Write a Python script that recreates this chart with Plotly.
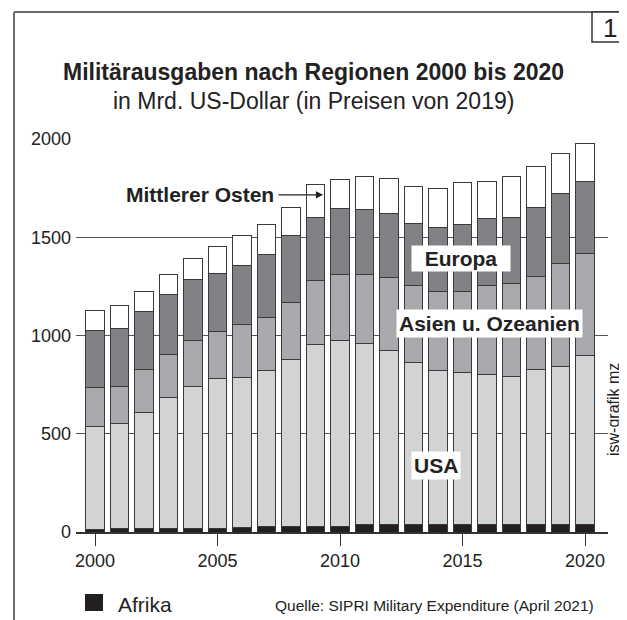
import plotly.graph_objects as go

# ---------------- data ----------------
years = list(range(2000, 2021))
afrika = [15, 16, 16, 16, 17, 17, 25, 26, 27, 27, 28, 36, 37, 37, 38, 37, 37, 37, 38, 38, 39]
usa = [523, 535, 590, 668, 723, 763, 762, 798, 850, 928, 947, 924, 886, 825, 783, 774, 765, 753, 790, 802, 857]
asien = [197, 192, 223, 220, 234, 240, 268, 267, 292, 324, 338, 353, 370, 390, 404, 414, 455, 475, 471, 524, 522]
europa = [288, 295, 291, 305, 313, 298, 299, 319, 341, 324, 331, 327, 327, 317, 324, 339, 339, 338, 350, 360, 365]
mittlerer_osten = [105, 117, 106, 102, 106, 136, 156, 154, 139, 168, 152, 168, 178, 187, 198, 215, 189, 204, 210, 200, 195]

y_ticks = [0, 500, 1000, 1500, 2000]
x_ticks = [2000, 2005, 2010, 2015, 2020]

title = "Militärausgaben nach Regionen 2000 bis 2020"
subtitle = "in Mrd. US-Dollar (in Preisen von 2019)"
source = "Quelle: SIPRI Military Expenditure (April 2021)"

# ---------------- layout geometry ----------------
OFF = 8  # page body margin
W, H = 627 - OFF, 620 - OFF
L, R, T, B = 76 - OFF, 19, 139 - OFF, 88
PW, PH = W - L - R, H - T - B


def px(xpage):
    return (xpage - OFF - L) / PW


def py(ypage):
    return (H - B - (ypage - OFF)) / PH


FONT = "Liberation Sans, Arial, sans-serif"
OUT = "#3a3a3a"

series = [
    ("Afrika", afrika, "#231f20"),
    ("USA", usa, "#d1d3d4"),
    ("Asien u. Ozeanien", asien, "#a7a9ac"),
    ("Europa", europa, "#808285"),
    ("Mittlerer Osten", mittlerer_osten, "#ffffff"),
]

fig = go.Figure()
for name, vals, col in series:
    fig.add_trace(go.Bar(
        x=years, y=vals, name=name,
        marker=dict(color=col, line=dict(color=OUT, width=1)),
        showlegend=False,
    ))

fig.update_layout(
    width=W, height=H,
    margin=dict(l=L, r=R, t=T, b=B),
    barmode="stack", bargap=0.25,
    paper_bgcolor="white", plot_bgcolor="white",
    font=dict(family=FONT, color="#222"),
    xaxis=dict(
        range=[1999.224, 2020.939], tickvals=x_ticks, ticktext=[str(v) for v in x_ticks],
        showgrid=False, zeroline=False,
        showline=True, linecolor="#333", linewidth=1.5,
        ticks="outside", ticklen=12, tickwidth=1, tickcolor="#333",
        tickfont=dict(size=18, family=FONT, color="#222"),
    ),
    yaxis=dict(
        range=[0, 2000], tickvals=y_ticks,
        showgrid=True, gridcolor="#555", gridwidth=1,
        zeroline=False, showline=False,
        ticks="", ticklabelstandoff=4,
        tickfont=dict(size=18, family=FONT, color="#222"),
    ),
)

shapes = [
    # outer frame
    dict(type="line", xref="paper", yref="paper", x0=px(14), x1=px(14), y0=py(12), y1=py(622),
         line=dict(color="#6b6b6b", width=2)),
    dict(type="line", xref="paper", yref="paper", x0=px(14), x1=px(628), y0=py(12), y1=py(12),
         line=dict(color="#6b6b6b", width=2)),
    dict(type="line", xref="paper", yref="paper", x0=px(625.5), x1=px(625.5), y0=py(42), y1=py(622),
         line=dict(color="#d0d0d0", width=1)),
    # number box
    dict(type="rect", xref="paper", yref="paper", x0=px(592), x1=px(628), y0=py(12), y1=py(42),
         line=dict(color="#333", width=1.5), fillcolor="white"),
    # Afrika legend square
    dict(type="rect", xref="paper", yref="paper", x0=px(85), x1=px(103), y0=py(594), y1=py(611),
         line=dict(width=0), fillcolor="#231f20"),
]

annotations = [
    dict(text="<b>" + title + "</b>", xref="paper", yref="paper", x=px(313.5), y=py(72),
         showarrow=False, font=dict(size=23, family=FONT, color="#222"), xanchor="center", yanchor="middle"),
    dict(text=subtitle, xref="paper", yref="paper", x=px(313), y=py(101),
         showarrow=False, font=dict(size=23, family=FONT, color="#222"), xanchor="center", yanchor="middle"),
    dict(text="1", xref="paper", yref="paper", x=px(610), y=py(27.5),
         showarrow=False, font=dict(size=26, family=FONT, color="#222"), xanchor="center", yanchor="middle"),
    # region labels
    dict(text="<b>&nbsp;&nbsp;Europa&nbsp;&nbsp;</b>", x=2014.93, y=1391, showarrow=False, bgcolor="white",
         borderpad=1, font=dict(size=21, family=FONT, color="#222")),
    dict(text="<b>Asien u. Ozeanien</b>", x=2016.12, y=1061, showarrow=False, bgcolor="white",
         borderpad=2, font=dict(size=21, family=FONT, color="#222")),
    dict(text="<b>USA</b>", x=2013.91, y=337, showarrow=False, bgcolor="white",
         borderpad=2, font=dict(size=21, family=FONT, color="#222")),
    dict(text="<b>Mittlerer Osten</b>", x=2007.39, y=1716, showarrow=False, xanchor="right",
         font=dict(size=21, family=FONT, color="#222")),
    dict(text="", x=2009.31, y=1716, ax=2007.43, ay=1716, axref="x", ayref="y",
         showarrow=True, arrowhead=2, arrowsize=1.1, arrowwidth=1.3, arrowcolor="#222"),
    # side credit
    dict(text="isw-grafik mz", xref="paper", yref="paper", x=px(613), y=py(410), textangle=-90,
         showarrow=False, font=dict(size=16, family=FONT, color="#222"), xanchor="center", yanchor="middle"),
    # legend and source
    dict(text="Afrika", xref="paper", yref="paper", x=px(116), y=py(604), xanchor="left", yanchor="middle",
         showarrow=False, font=dict(size=21, family=FONT, color="#222")),
    dict(text=source, xref="paper", yref="paper", x=px(596), y=py(605), xanchor="right", yanchor="middle",
         showarrow=False, font=dict(size=15.5, family=FONT, color="#222")),
]

fig.update_layout(shapes=shapes, annotations=annotations)
fig.write_html("out.html")
